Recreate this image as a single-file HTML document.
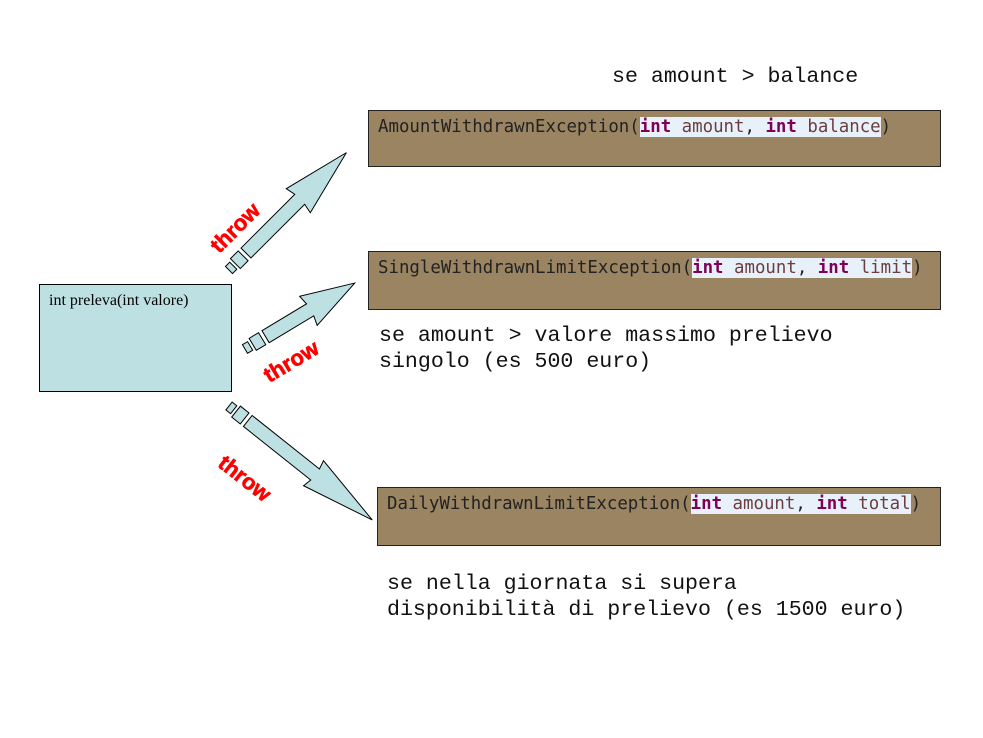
<!DOCTYPE html>
<html><head><meta charset="utf-8"><style>
body{margin:0;width:983px;height:738px;background:#fff;position:relative;overflow:hidden}
.box{position:absolute;background:#9b8462;border:1px solid #222;box-sizing:border-box}
.code{position:absolute;font-family:"DejaVu Sans Mono",monospace;font-size:17.4px;color:#222;white-space:pre;line-height:23px}
.hl{background:#e8f0fa}
.k{color:#7f0055;font-weight:bold}
.v{color:#6a3e3e}
.t{position:absolute;font-family:"Liberation Mono",monospace;font-size:21.6px;color:#111;white-space:pre;line-height:26px}
.th{position:absolute;font-family:"Liberation Sans",sans-serif;font-weight:bold;color:#f00;font-size:22px;transform-origin:0 0;-webkit-text-stroke:0.6px #f00}
</style></head><body>
<svg width="983" height="738" style="position:absolute;left:0;top:0">
<g fill="#bde0e3" stroke="#000" stroke-width="1">
<rect x="39.5" y="284.5" width="192" height="107"/>
<g transform="translate(229,270) rotate(-45)">
<polygon points="0,-5 6,-5 6,5 0,5"/><polygon points="9,-7 20,-7 20,7 9,7"/>
<polygon points="24,-7 100,-7 98,-17 166,0 98,17 100,7 24,7"/>
</g>
<g transform="translate(245,349) rotate(-31)">
<polygon points="0,-5 6,-5 6,5 0,5"/><polygon points="9,-7 20,-7 20,7 9,7"/>
<polygon points="24,-7 76,-7 74,-17 128,0 74,17 76,7 24,7"/>
</g>
<g transform="translate(229,406) rotate(38.5)">
<polygon points="0,-5 6,-5 6,5 0,5"/><polygon points="9,-7 20,-7 20,7 9,7"/>
<polygon points="24,-7 110,-7 108,-16 183,0 108,16 110,7 24,7"/>
</g>
</g>
</svg>
<div style="position:absolute;left:49px;top:292px;font-family:'Liberation Serif',serif;font-size:16px;color:#000">int preleva(int valore)</div>
<div class="box" style="left:368px;top:110px;width:573px;height:57px"></div>
<div class="box" style="left:368px;top:251px;width:573px;height:59px"></div>
<div class="box" style="left:377px;top:487px;width:564px;height:59px"></div>
<div class="code" style="left:378px;top:116px">AmountWithdrawnException(<span class="hl"><span class="k">int</span> <span class="v">amount</span>, <span class="k">int</span> <span class="v">balance</span></span>)</div>
<div class="code" style="left:378px;top:257px">SingleWithdrawnLimitException(<span class="hl"><span class="k">int</span> <span class="v">amount</span>, <span class="k">int</span> <span class="v">limit</span></span>)</div>
<div class="code" style="left:387px;top:493px">DailyWithdrawnLimitException(<span class="hl"><span class="k">int</span> <span class="v">amount</span>, <span class="k">int</span> <span class="v">total</span></span>)</div>
<div class="t" style="left:612px;top:64px">se amount &gt; balance</div>
<div class="t" style="left:379px;top:323px">se amount &gt; valore massimo prelievo
singolo (es 500 euro)</div>
<div class="t" style="left:387px;top:571px">se nella giornata si supera
disponibilità di prelievo (es 1500 euro)</div>
<div class="th" style="left:205px;top:240px;transform:rotate(-45deg)">throw</div>
<div class="th" style="left:259px;top:366px;transform:rotate(-31deg)">throw</div>
<div class="th" style="left:229px;top:450px;transform:rotate(38deg)">throw</div>
</body></html>
